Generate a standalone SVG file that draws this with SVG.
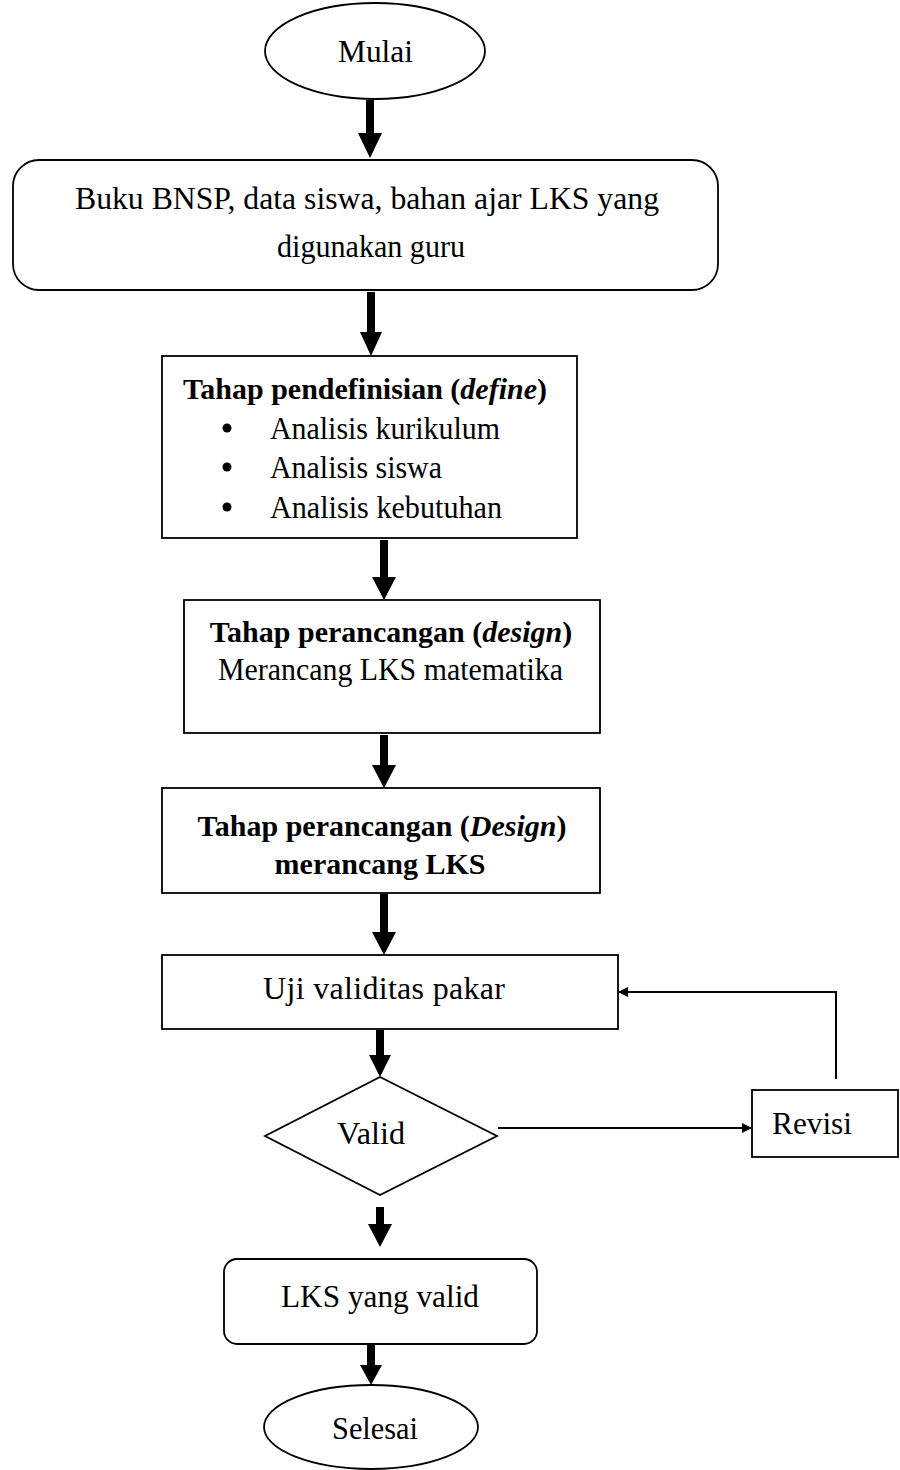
<svg xmlns="http://www.w3.org/2000/svg" width="900" height="1470" viewBox="0 0 900 1470">
<defs>
<style>
.shape{fill:#fff;stroke:#000;stroke-width:1.8}
.t{font-family:"Liberation Serif","Times New Roman",serif;font-size:32px;fill:#000}
.h{font-family:"Liberation Serif","Times New Roman",serif;font-size:30px;font-weight:bold;fill:#000;text-anchor:middle}
.thick{fill:#000;stroke:none}
.thin{fill:none;stroke:#000;stroke-width:2}
</style>
<marker id="ah" markerWidth="10" markerHeight="10" refX="9" refY="5" orient="auto" markerUnits="userSpaceOnUse">
<path d="M0,0 L10,5 L0,10 Z" fill="#000"/>
</marker>
</defs>
<rect width="900" height="1470" fill="#fff"/>

<g id="connectors">
<path class="thick" d="M366,100 L374,100 L374,133 L382,133 L370,158 L358,133 L366,133 Z"/>
<path class="thick" d="M367,292 L375,292 L375,332 L382,332 L371,356 L360,332 L367,332 Z"/>
<path class="thick" d="M380,540 L388,540 L388,577 L396,577 L384,600 L372,577 L380,577 Z"/>
<path class="thick" d="M380,735 L388,735 L388,765 L396,765 L384,788 L372,765 L380,765 Z"/>
<path class="thick" d="M380,894 L388,894 L388,932 L396,932 L384,955 L372,932 L380,932 Z"/>
<path class="thick" d="M376,1030 L384,1030 L384,1055 L391,1055 L380,1077 L369,1055 L376,1055 Z"/>
<path class="thick" d="M376,1207 L384,1207 L384,1224 L392,1224 L380,1247 L368,1224 L376,1224 Z"/>
<path class="thick" d="M367,1345 L375,1345 L375,1365 L382,1365 L371,1385 L360,1365 L367,1365 Z"/>
<path class="thin" d="M498,1128 L751,1128" marker-end="url(#ah)"/>
<path class="thin" d="M836,1079 L836,992 L619,992" marker-end="url(#ah)"/>
</g>

<g id="mulai">
<ellipse class="shape" cx="375" cy="51" rx="110" ry="48"/>
<text class="t" x="338" y="62" textLength="75" lengthAdjust="spacingAndGlyphs">Mulai</text>
</g>

<g id="input">
<rect class="shape" x="13" y="160" width="705" height="130" rx="26" ry="26"/>
<text class="t" x="75" y="209" textLength="584" lengthAdjust="spacingAndGlyphs">Buku BNSP, data siswa, bahan ajar LKS yang</text>
<text class="t" x="277" y="257" textLength="188" lengthAdjust="spacingAndGlyphs">digunakan guru</text>
</g>

<g id="define">
<rect class="shape" x="162" y="356" width="415" height="182"/>
<text class="h" x="365" y="399">Tahap pendefinisian (<tspan font-style="italic">define</tspan>)</text>
<circle cx="227" cy="428" r="4.5" fill="#000"/>
<circle cx="227" cy="467" r="4.5" fill="#000"/>
<circle cx="227" cy="507" r="4.5" fill="#000"/>
<text class="t" x="270" y="439" textLength="230" lengthAdjust="spacingAndGlyphs">Analisis kurikulum</text>
<text class="t" x="270" y="478" textLength="172" lengthAdjust="spacingAndGlyphs">Analisis siswa</text>
<text class="t" x="270" y="518" textLength="232" lengthAdjust="spacingAndGlyphs">Analisis kebutuhan</text>
</g>

<g id="design1">
<rect class="shape" x="184" y="600" width="416" height="133"/>
<text class="h" x="391" y="642">Tahap perancangan (<tspan font-style="italic">design</tspan>)</text>
<text class="t" x="218" y="680" textLength="345" lengthAdjust="spacingAndGlyphs">Merancang LKS matematika</text>
</g>

<g id="design2">
<rect class="shape" x="162" y="788" width="438" height="105"/>
<text class="h" x="382" y="836">Tahap perancangan (<tspan font-style="italic">Design</tspan>)</text>
<text class="h" x="380" y="874">merancang LKS</text>
</g>

<g id="uji">
<rect class="shape" x="162" y="955" width="456" height="74"/>
<text class="t" x="263" y="999" textLength="242" lengthAdjust="spacing">Uji validitas pakar</text>
</g>

<g id="valid">
<polygon class="shape" points="380,1077 497,1136 380,1195 265,1136"/>
<text class="t" x="337" y="1144" textLength="68" lengthAdjust="spacingAndGlyphs">Valid</text>
</g>

<g id="revisi">
<rect class="shape" x="752" y="1090" width="146" height="67"/>
<text class="t" x="772" y="1134" textLength="80" lengthAdjust="spacingAndGlyphs">Revisi</text>
</g>

<g id="lks">
<rect class="shape" x="224" y="1259" width="313" height="85" rx="13" ry="13"/>
<text class="t" x="281" y="1307" textLength="198" lengthAdjust="spacingAndGlyphs">LKS yang valid</text>
</g>

<g id="selesai">
<ellipse class="shape" cx="371" cy="1427" rx="107" ry="42"/>
<text class="t" x="332" y="1439" textLength="86" lengthAdjust="spacingAndGlyphs">Selesai</text>
</g>
</svg>
